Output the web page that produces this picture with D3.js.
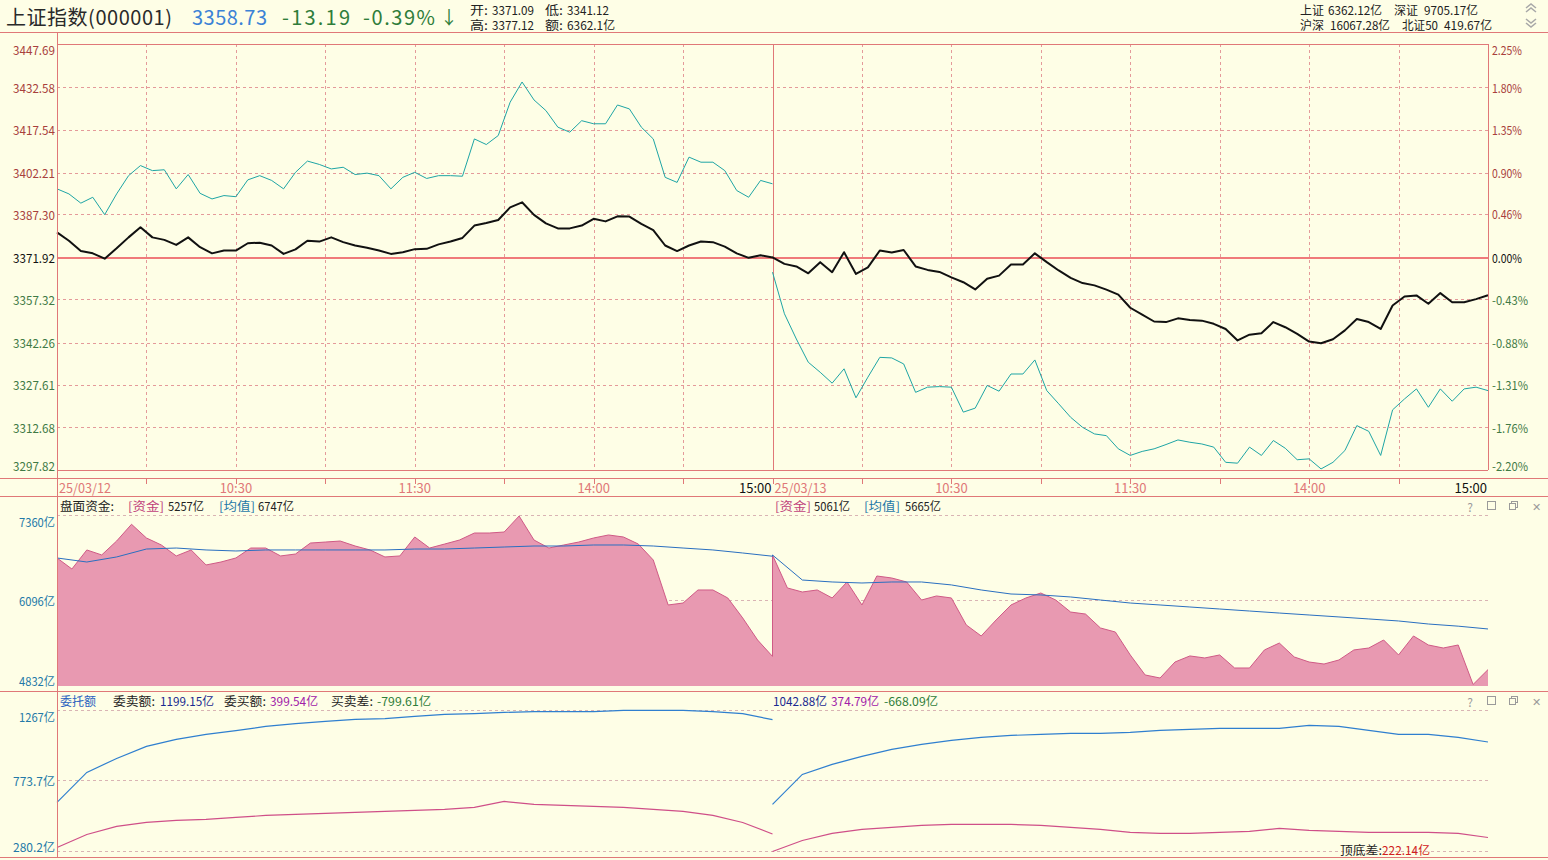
<!DOCTYPE html>
<html>
<head>
<meta charset="utf-8">
<script src="https://cdn.jsdelivr.net/npm/d3@7"></script>
<style>
  body { margin: 0; background: #fefee6; }
  svg { display: block; font-family: "Noto Sans CJK SC", "Noto Sans", sans-serif; }
</style>
</head>
<body>
<svg id="chart" width="1548" height="860"></svg>
<script>
// ---- data ----
var prevClose = 3371.92;
var dayLabels = ['25/03/12', '25/03/13'];
var timeLabels = ['10:30', '11:30', '14:00', '15:00'];
var priceTicks = [3447.69, 3432.58, 3417.54, 3402.21, 3387.30, 3371.92, 3357.32, 3342.26, 3327.61, 3312.68, 3297.82];
var pctTicks = [2.25, 1.80, 1.35, 0.90, 0.46, 0.00, -0.43, -0.88, -1.31, -1.76, -2.20];
var fundTicks = [7360, 6096, 4832];
var orderTicks = [1267, 773.7, 280.2];

// index (black), 4-minute steps
var priceDay1 = [3380.9, 3377.9, 3374.2, 3373.4, 3371.5, 3375.2, 3379.1, 3382.7, 3379.1, 3378.2, 3376.4, 3379.1, 3375.6, 3373.4, 3374.4, 3374.4, 3377.0, 3377.2, 3376.2, 3373.2, 3374.8, 3377.9, 3377.6, 3379.1, 3377.4, 3376.2, 3375.4, 3374.4, 3373.2, 3373.8, 3374.9, 3375.0, 3376.6, 3377.6, 3378.9, 3383.3, 3384.2, 3385.3, 3389.8, 3391.6, 3387.1, 3384.1, 3382.3, 3382.3, 3383.3, 3385.7, 3384.8, 3386.6, 3386.5, 3383.9, 3381.7, 3376.2, 3374.2, 3376.2, 3377.6, 3377.4, 3375.8, 3373.4, 3371.8, 3372.7, 3371.92];
var priceDay2 = [3372.0, 3369.7, 3368.8, 3366.4, 3370.3, 3366.8, 3373.8, 3366.2, 3368.5, 3374.4, 3373.7, 3374.6, 3368.8, 3367.6, 3366.9, 3365.0, 3363.3, 3360.8, 3364.5, 3365.6, 3369.5, 3369.5, 3373.4, 3370.3, 3367.4, 3364.8, 3363.0, 3362.2, 3360.7, 3359.0, 3354.4, 3352.0, 3349.6, 3349.4, 3350.7, 3350.1, 3349.9, 3348.8, 3347.0, 3343.0, 3345.0, 3345.5, 3349.4, 3347.6, 3345.3, 3342.6, 3342.0, 3343.4, 3346.5, 3350.5, 3349.4, 3347.0, 3355.2, 3358.3, 3358.7, 3355.8, 3359.5, 3356.3, 3356.3, 3357.4, 3358.73];
// unweighted line (teal), 4-minute steps
var tealDay1 = [3396.4, 3394.6, 3391.3, 3393.4, 3387.2, 3394.6, 3401.1, 3404.7, 3402.9, 3403.2, 3396.4, 3401.5, 3394.8, 3392.8, 3394.0, 3393.6, 3399.6, 3401.1, 3399.4, 3396.4, 3402.3, 3406.3, 3405.1, 3403.5, 3404.1, 3401.5, 3402.0, 3401.1, 3396.4, 3400.5, 3402.3, 3400.1, 3401.1, 3401.1, 3400.9, 3414.2, 3412.2, 3415.4, 3427.3, 3434.5, 3428.1, 3424.3, 3418.4, 3416.6, 3420.7, 3419.6, 3419.6, 3426.3, 3424.9, 3418.4, 3414.2, 3400.5, 3398.7, 3407.7, 3405.9, 3405.9, 3402.9, 3395.8, 3393.4, 3399.4, 3398.2];
var tealDay2 = [3366.8, 3352.3, 3343.5, 3335.4, 3331.9, 3328.1, 3333.1, 3323.0, 3330.2, 3337.1, 3336.9, 3334.8, 3324.9, 3326.7, 3326.9, 3326.7, 3318.0, 3319.4, 3327.3, 3325.3, 3331.3, 3331.3, 3336.2, 3325.5, 3320.9, 3316.2, 3312.7, 3310.4, 3309.8, 3305.2, 3302.9, 3304.3, 3305.2, 3306.7, 3308.3, 3307.5, 3306.9, 3305.8, 3300.5, 3300.2, 3305.8, 3302.9, 3308.1, 3305.4, 3301.4, 3301.7, 3298.2, 3300.5, 3304.6, 3313.3, 3311.3, 3302.9, 3318.8, 3322.6, 3326.1, 3319.7, 3326.1, 3321.8, 3326.1, 3326.7, 3325.5];

// 盘面资金 (亿), 5-minute steps
var fundDay1 = [6721, 6557, 6840, 6766, 6973, 7222, 7018, 6914, 6751, 6840, 6617, 6661, 6721, 6869, 6869, 6751, 6780, 6943, 6958, 6973, 6899, 6840, 6736, 6751, 7033, 6869, 6928, 6988, 7092, 7092, 7107, 7345, 6988, 6869, 6914, 6958, 7018, 7063, 7033, 6928, 6691, 6022, 6051, 6245, 6245, 6126, 5829, 5501, 5257];
var fundDay2 = [6765, 6275, 6215, 6245, 6126, 6364, 6022, 6453, 6423, 6364, 6096, 6156, 6126, 5725, 5561, 5799, 6022, 6126, 6200, 6096, 5917, 5887, 5680, 5620, 5279, 4981, 4936, 5174, 5264, 5234, 5279, 5085, 5085, 5353, 5456, 5249, 5174, 5144, 5204, 5353, 5382, 5501, 5279, 5561, 5427, 5382, 5427, 4840, 5061];
// 均值 (亿), 10-minute steps
var fundAvgDay1 = [6721, 6661, 6736, 6854, 6869, 6840, 6825, 6840, 6840, 6840, 6840, 6840, 6854, 6854, 6869, 6884, 6899, 6899, 6914, 6914, 6899, 6869, 6840, 6795, 6747];
var fundAvgDay2 = [6765, 6393, 6364, 6349, 6364, 6364, 6320, 6245, 6185, 6171, 6141, 6096, 6051, 6022, 5992, 5962, 5932, 5902, 5873, 5844, 5814, 5784, 5739, 5707, 5665];

// 委卖额 / 委买额 (亿), 10-minute steps
var sellDay1 = [620, 830, 928, 1012, 1061, 1096, 1123, 1152, 1172, 1187, 1201, 1207, 1222, 1236, 1242, 1250, 1256, 1256, 1256, 1264, 1264, 1264, 1256, 1242, 1199.15];
var sellDay2 = [606, 816, 886, 942, 991, 1026, 1054, 1075, 1089, 1096, 1103, 1103, 1110, 1124, 1131, 1138, 1138, 1138, 1159, 1152, 1124, 1096, 1096, 1075, 1042.88];
var buyDay1 = [305, 396, 452, 480, 494, 501, 515, 529, 536, 543, 550, 557, 564, 571, 585, 627, 606, 599, 592, 585, 571, 557, 529, 480, 399.54];
var buyDay2 = [277, 354, 403, 431, 445, 459, 466, 466, 466, 459, 445, 431, 410, 403, 403, 410, 417, 438, 424, 417, 410, 410, 410, 403, 374.79];

var headerQuote = [['开', '3371.09'], ['低', '3341.12'], ['高', '3377.12'], ['额', '6362.1亿']];
var headerMarket = [['上证', '6362.12亿'], ['深证', '9705.17亿'], ['沪深', '16067.28亿'], ['北证50', '419.67亿']];
var fundLegend = [['5257亿', '6747亿'], ['5061亿', '5665亿']];
var orderLegend = [['1199.15亿', '399.54亿', '-799.61亿'], ['1042.88亿', '374.79亿', '-668.09亿']];

(function () {
    'use strict';

    var svg = d3.select('#chart');
    var L = 57, R = 1488, W = 1548;
    var C = {
        border: '#e07878', grid: '#e49a9a', zero: '#f07a7a',
        up: '#a8403c', down: '#3f7a45', teal: '#1ea5a5',
        pinkFill: '#e899b1', pinkLine: '#cf5a86', avg: '#2a6fc0',
        sell: '#2f7fcf', buy: '#cf4f88', axisBlue: '#2379a8', gray: '#9a9a9a'
    };

    var x = d3.scaleLinear().domain([0, 480]).range([L, R]);

    function series(arr, day) {
        var step = 240 / (arr.length - 1);
        return arr.map(function (v, i) { return {t: day * 240 + i * step, v: v}; });
    }

    // width on a SimSun-like grid: half width for ascii, full width for CJK
    function gridWidth(txt, size) {
        var w = 0;
        for (var i = 0; i < txt.length; i++) w += txt.charCodeAt(i) > 255 ? size : size / 2;
        return w;
    }

    function hline(y, x1, x2, color, dash, w) {
        svg.append('line').attr('x1', x1).attr('x2', x2).attr('y1', y).attr('y2', y)
            .attr('stroke', color).attr('stroke-width', w || 1)
            .attr('stroke-dasharray', dash || null).attr('shape-rendering', 'crispEdges');
    }
    function vline(xx, y1, y2, color, dash, w) {
        svg.append('line').attr('x1', xx).attr('x2', xx).attr('y1', y1).attr('y2', y2)
            .attr('stroke', color).attr('stroke-width', w || 1)
            .attr('stroke-dasharray', dash || null).attr('shape-rendering', 'crispEdges');
    }
    function label(xx, y, txt, color, size, anchor, noGrid) {
        size = size || 12;
        var t = svg.append('text').attr('x', xx).attr('y', y)
            .attr('fill', color).attr('font-size', size)
            .attr('text-anchor', anchor || 'start')
            .attr('dominant-baseline', 'central').text(txt);
        if (!noGrid) t.attr('textLength', gridWidth(txt, size)).attr('lengthAdjust', 'spacingAndGlyphs');
        return t;
    }

    // ---------- header ----------
    label(6, 16, '上证指数(000001)', '#2a2a2a', 20, null, true).attr('textLength', 166);
    label(192, 16, '3358.73', '#3b82d6', 20, null, true).attr('textLength', 75);
    label(282, 16, '-13.19', '#2f7d3a', 20, null, true).attr('textLength', 68);
    label(363, 16, '-0.39%', '#2f7d3a', 20, null, true).attr('textLength', 72);
    label(440, 16, '↓', '#2f7d3a', 18, null, true);
    headerQuote.forEach(function (q, i) {
        var xx = 470 + (i % 2) * 75, y = i < 2 ? 9 : 24;
        label(xx, y, q[0] + ':', '#222', 12);
        label(xx + 22, y, q[1], '#222', 12);
    });
    [[1300, 9, 1328], [1394, 9, 1424], [1300, 24, 1330], [1402, 24, 1444]].forEach(function (p, i) {
        label(p[0], p[1], headerMarket[i][0], '#222', 12);
        label(p[2], p[1], headerMarket[i][1], '#222', 12);
    });
    // double chevrons (scroll icons)
    [[4, -1], [8, -1], [19, 1], [23, 1]].forEach(function (c) {
        var y0 = c[0], s = c[1];
        svg.append('path')
            .attr('d', 'M1526,' + (y0 + (s < 0 ? 4 : 0)) + 'L1531,' + (y0 + (s < 0 ? 0 : 4)) + 'L1536,' + (y0 + (s < 0 ? 4 : 0)))
            .attr('fill', 'none').attr('stroke', '#a8a8a8').attr('stroke-width', 1.6);
    });

    // ---------- price panel ----------
    var yTop = d3.scaleLinear().domain([3297.82, prevClose, 3447.69]).range([470, 257.5, 45]);

    priceTicks.forEach(function (v, i) {
        if (i === 0 || i === priceTicks.length - 1 || v === prevClose) return;
        hline(Math.round(yTop(v)) + 0.5, L, R, C.grid, '3,3');
    });
    d3.range(30, 480, 30).forEach(function (t) {
        if (t === 240) return;
        vline(Math.round(x(t)) + 0.5, 44, 470, C.grid, '3,3');
    });
    vline(Math.round(x(240)) + 0.5, 44, 470, C.border);
    hline(yTop(prevClose), L, R, C.zero, null, 2);

    var lineTop = d3.line().x(function (d) { return x(d.t); }).y(function (d) { return yTop(d.v); });
    [tealDay1, tealDay2].forEach(function (arr, day) {
        svg.append('path').datum(series(arr, day)).attr('d', lineTop)
            .attr('fill', 'none').attr('stroke', C.teal).attr('stroke-width', 1);
    });
    svg.append('path').datum(series(priceDay1, 0).concat(series(priceDay2, 1))).attr('d', lineTop)
        .attr('fill', 'none').attr('stroke', '#111').attr('stroke-width', 2).attr('stroke-linejoin', 'round');

    priceTicks.forEach(function (v) {
        var y = Math.max(49, Math.min(465, yTop(v)));
        var col = v > prevClose ? C.up : (v < prevClose ? C.down : '#111');
        label(55, y, v.toFixed(2), col, 12, 'end');
    });
    pctTicks.forEach(function (p) {
        var y = Math.max(49, Math.min(465, yTop(prevClose * (1 + p / 100))));
        var col = p > 0 ? C.up : (p < 0 ? C.down : '#111');
        label(1492, y, p.toFixed(2) + '%', col, 12);
    });

    // borders of price panel
    hline(32.5, 0, W, C.border, null, 1.5);
    hline(44.5, L, R, C.border);
    hline(470.5, L, R, C.border);
    vline(R + 0.5, 44, 470, C.border);

    // ---------- time axis ----------
    hline(478.5, 0, W, C.border);
    d3.range(30, 480, 30).forEach(function (t) {
        vline(Math.round(x(t)) + 0.5, 478, 484, C.border);
    });
    [0, 1].forEach(function (day) {
        var o = day * 240;
        label(x(o) + 2, 487, dayLabels[day], C.border, 13);
        label(x(o + 60), 487, timeLabels[0], C.border, 13, 'middle');
        label(x(o + 120), 487, timeLabels[1], C.border, 13, 'middle');
        label(x(o + 180), 487, timeLabels[2], C.border, 13, 'middle');
        label(x(o + 240) - 1, 487, timeLabels[3], '#111', 13, 'end');
    });
    hline(496.5, 0, W, C.border);

    // ---------- fund panel ----------
    var yMid = d3.scaleLinear().domain([4832, 7360]).range([685, 515]);
    fundTicks.forEach(function (v) { hline(Math.round(yMid(v)) + 0.5, L, R, '#d9b4b4', '3,3'); });

    var fund = series(fundDay1, 0).concat(series(fundDay2, 1));
    svg.append('path').datum(fund)
        .attr('d', d3.area().x(function (d) { return x(d.t); }).y0(686).y1(function (d) { return yMid(d.v); }))
        .attr('fill', C.pinkFill);
    svg.append('path').datum(fund)
        .attr('d', d3.line().x(function (d) { return x(d.t); }).y(function (d) { return yMid(d.v); }))
        .attr('fill', 'none').attr('stroke', C.pinkLine).attr('stroke-width', 1);
    svg.append('path').datum(series(fundAvgDay1, 0).concat(series(fundAvgDay2, 1)))
        .attr('d', d3.line().x(function (d) { return x(d.t); }).y(function (d) { return yMid(d.v); }))
        .attr('fill', 'none').attr('stroke', C.avg).attr('stroke-width', 1);

    fundTicks.forEach(function (v) {
        var y = Math.max(521, Math.min(680, yMid(v)));
        label(55, y, v + '亿', C.axisBlue, 12, 'end');
    });

    label(60, 505, '盘面资金:', '#222', 12);
    [[128, 168, 219, 258], [775, 814, 864, 905]].forEach(function (p, day) {
        label(p[0], 505, '[资金]', '#c0407a', 12);
        label(p[1], 505, fundLegend[day][0], '#222', 12);
        label(p[2], 505, '[均值]', '#1f78a8', 12);
        label(p[3], 505, fundLegend[day][1], '#222', 12);
    });

    function panelIcons(y) {
        label(1470, y, '?', C.gray, 12, 'middle', true);
        svg.append('rect').attr('x', 1487.5).attr('y', y - 4.5).attr('width', 8).attr('height', 8)
            .attr('fill', 'none').attr('stroke', C.gray);
        svg.append('rect').attr('x', 1511.5).attr('y', y - 4.5).attr('width', 6).attr('height', 6)
            .attr('fill', 'none').attr('stroke', C.gray);
        svg.append('rect').attr('x', 1509.5).attr('y', y - 2.5).attr('width', 6).attr('height', 6)
            .attr('fill', '#fefee6').attr('stroke', C.gray);
        label(1536, y, '✕', C.gray, 11, 'middle', true);
    }
    panelIcons(506);

    hline(691.5, 0, W, C.border);

    // ---------- order panel ----------
    var yBot = d3.scaleLinear().domain([280.2, 1267]).range([851, 710]);
    orderTicks.forEach(function (v) { hline(Math.round(yBot(v)) + 0.5, L, R, '#d9b4b4', '3,3'); });

    var lineBot = d3.line().x(function (d) { return x(d.t); }).y(function (d) { return yBot(d.v); });
    [[sellDay1, sellDay2, C.sell], [buyDay1, buyDay2, C.buy]].forEach(function (s) {
        [s[0], s[1]].forEach(function (arr, day) {
            svg.append('path').datum(series(arr, day)).attr('d', lineBot)
                .attr('fill', 'none').attr('stroke', s[2]).attr('stroke-width', 1.2);
        });
    });

    orderTicks.forEach(function (v) {
        var y = Math.max(716, Math.min(846, yBot(v)));
        label(55, y, v + '亿', C.axisBlue, 12, 'end');
    });

    label(60, 700, '委托额', '#2a62c0', 12);
    label(113, 700, '委卖额:', '#222', 12);
    label(160, 700, orderLegend[0][0], '#1a2a90', 12);
    label(224, 700, '委买额:', '#222', 12);
    label(270, 700, orderLegend[0][1], '#a020a8', 12);
    label(331, 700, '买卖差:', '#222', 12);
    label(377, 700, orderLegend[0][2], '#2f7d3a', 12);
    label(773, 700, orderLegend[1][0], '#1a2a90', 12);
    label(831, 700, orderLegend[1][1], '#a020a8', 12);
    label(884, 700, orderLegend[1][2], '#2f7d3a', 12);
    panelIcons(701);

    label(1340, 849, '顶底差:', '#222', 12);
    label(1382, 849, '222.14亿', '#d02020', 12);

    hline(857.5, 0, W, C.border);
    vline(L + 0.5, 32, 858, C.border);
}());
</script>
</body>
</html>
